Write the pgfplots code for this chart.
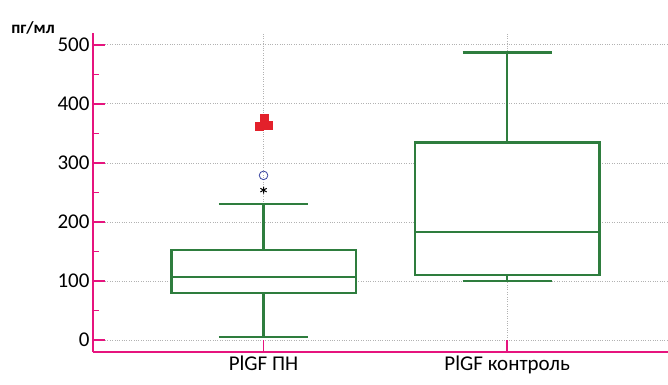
\documentclass[border=0pt]{standalone}
\usepackage{pgfplots}
\pgfplotsset{compat=1.18}
\usepgfplotslibrary{statistics}
\usepackage{fontspec}
\setmainfont{Carlito}
\definecolor{axmag}{HTML}{E6147E}
\definecolor{boxgreen}{HTML}{2E7D3E}
\definecolor{outred}{HTML}{E3212B}
\definecolor{outblue}{HTML}{3A45A0}

\begin{document}
\begin{tikzpicture}
\useasboundingbox (0,0) rectangle (668bp,385bp);
\begin{axis}[
  at={(93bp,33bp)}, anchor=south west,
  scale only axis, width=575bp, height=319bp,
  xmin=0.3, xmax=2.66, ymin=-20, ymax=520,
  axis x line=bottom, axis y line=left,
  axis line style={axmag, line width=1.6bp, -},
  xtick={1,2}, xticklabels={PlGF ПН, PlGF контроль},
  ytick={0,100,...,500}, minor ytick={50,150,...,450},
  tick align=inside,
  tick style={axmag, line width=1.6bp},
  major tick length=12bp, minor tick length=6bp,
  grid=major, major grid style={dotted, black!30, line width=0.8bp},
  tick label style={font=\fontsize{21bp}{24bp}\selectfont, text=black},
  /pgf/number format/assume math mode=true,
  boxplot/draw direction=y,
  boxplot/every box/.style={draw=boxgreen, fill=white, line width=2.4bp},
  boxplot/every median/.style={draw=boxgreen, line width=2.4bp},
  boxplot/every whisker/.style={draw=boxgreen, line width=2.4bp},
  clip=false,
]
% box for the PlGF ПН group
\addplot[boxplot prepared={draw position=1,
    lower whisker=5, lower quartile=80, median=107,
    upper quartile=152.5, upper whisker=231,
    box extend=0.757, whisker extend=0.366},
  draw=boxgreen, line width=2.4bp, solid]
  coordinates {};
% box for the control group
\addplot[boxplot prepared={draw position=2,
    lower whisker=100.5, lower quartile=110, median=183,
    upper quartile=334.5, upper whisker=487,
    box extend=0.757, whisker extend=0.366},
  draw=boxgreen, line width=2.4bp, solid]
  coordinates {};
% extreme values
\addplot[only marks, mark=square*, mark size=4bp, color=outred]
  coordinates {(1.004,376) (0.984,363) (1.02,364)};
% outlier
\addplot[only marks, mark=o, mark size=4.3bp, color=outblue, line width=0.8bp]
  coordinates {(1.0,279)};
\addplot[only marks, mark=asterisk, mark size=3.6bp, color=black, line width=1bp]
  coordinates {(1.0,254)};
\end{axis}
\node[font=\bfseries\fontsize{17bp}{20bp}\selectfont] at (33bp,357bp) {пг/мл};
\end{tikzpicture}
\end{document}
